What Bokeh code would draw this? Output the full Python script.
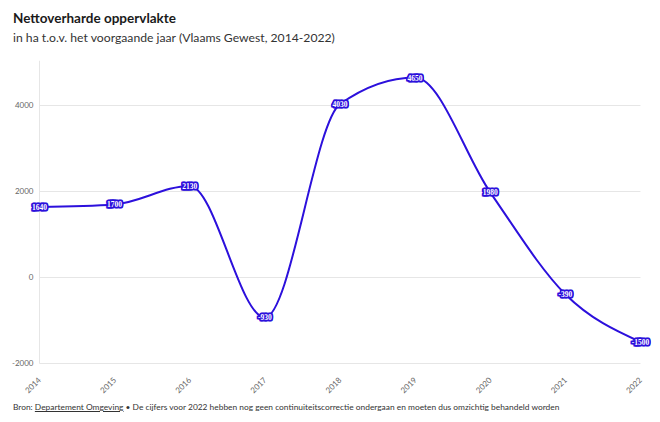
import math
import numpy as np
from bokeh.plotting import figure
from bokeh.layouts import column
from bokeh.models import (ColumnDataSource, Range1d, FixedTicker, LabelSet, Div)
from bokeh.core.properties import value
from bokeh.embed import file_html
from bokeh.resources import INLINE

years = [2014, 2015, 2016, 2017, 2018, 2019, 2020, 2021, 2022]
values = [1640, 1700, 2130, -930, 4030, 4650, 1980, -390, -1500]
y_ticks = [-2000, 0, 2000, 4000]
title = "Nettoverharde oppervlakte"
subtitle = "in ha t.o.v. het voorgaande jaar (Vlaams Gewest, 2014-2022)"
footer_a = "Bron: "
footer_link = "Departement Omgeving"
footer_b = " \u2022 De cijfers voor 2022 hebben nog geen continuiteitscorrectie ondergaan en moeten dus omzichtig behandeld worden"

LINE = "#2c10dc"
FONT = "Lato"
GRID = "#e6e6e6"

# monotone-X cubic segments (as d3.curveMonotoneX)
def sign(v):
    return -1 if v < 0 else 1

xs = np.array(years, dtype=float)
ys = np.array(values, dtype=float)
n = len(xs)
t = np.zeros(n)
for i in range(1, n - 1):
    h0 = xs[i] - xs[i - 1]
    h1 = xs[i + 1] - xs[i]
    s0 = (ys[i] - ys[i - 1]) / h0
    s1 = (ys[i + 1] - ys[i]) / h1
    pp = (s0 * h1 + s1 * h0) / (h0 + h1)
    t[i] = (sign(s0) + sign(s1)) * min(abs(s0), abs(s1), 0.5 * abs(pp))
h = xs[1] - xs[0]
t[0] = (3 * (ys[1] - ys[0]) / h - t[1]) / 2
h = xs[-1] - xs[-2]
t[-1] = (3 * (ys[-1] - ys[-2]) / h - t[-2]) / 2

seg = dict(x0=[], y0=[], x1=[], y1=[], cx0=[], cy0=[], cx1=[], cy1=[])
for i in range(n - 1):
    dx = (xs[i + 1] - xs[i]) / 3
    seg["x0"].append(xs[i]); seg["y0"].append(ys[i])
    seg["x1"].append(xs[i + 1]); seg["y1"].append(ys[i + 1])
    seg["cx0"].append(xs[i] + dx); seg["cy0"].append(ys[i] + dx * t[i])
    seg["cx1"].append(xs[i + 1] - dx); seg["cy1"].append(ys[i + 1] - dx * t[i + 1])

x0, x1 = years[0], years[-1]
y_lo, y_hi = -2163, 5046

p = figure(width=660, height=350, output_backend="svg", toolbar_location=None,
           x_range=Range1d(2013.614, 2022.24), y_range=Range1d(y_lo, y_hi),
           min_border_left=10, min_border_right=2, min_border_top=12,
           min_border_bottom=28, margin=0)
p.outline_line_color = None
p.background_fill_color = "white"
p.border_fill_color = "white"
p.xgrid.visible = False
p.ygrid.visible = False
p.yaxis.visible = False

# gridlines (horizontal at y ticks, vertical at first year)
p.segment(x0=[x0] * len(y_ticks), x1=[x1] * len(y_ticks), y0=y_ticks, y1=y_ticks,
          line_color=GRID, line_width=1)
p.segment(x0=[x0], x1=[x0], y0=[y_ticks[0]], y1=[y_hi], line_color=GRID, line_width=1)

# y tick labels
p.text(x=[x0] * len(y_ticks), y=y_ticks, text=[str(v) for v in y_ticks],
       x_offset=-6, text_align="right", text_baseline="middle",
       text_font=value(FONT), text_font_size="8px", text_color="#666666")

p.bezier(x0="x0", y0="y0", x1="x1", y1="y1", cx0="cx0", cy0="cy0", cx1="cx1", cy1="cy1",
         source=ColumnDataSource(seg), line_color=LINE, line_width=2)

src = ColumnDataSource(dict(x=years, y=values, t=[str(v) for v in values]))
label_style = dict(x="x", y="y", text="t", source=src, text_align="center",
                   text_baseline="middle", text_font=FONT, text_font_size="7.5px",
                   text_font_style="bold")
for ox, oy in [(-1, -1), (-1, 0), (-1, 1), (0, -1), (0, 1), (1, -1), (1, 0), (1, 1)]:
    p.add_layout(LabelSet(x_offset=ox, y_offset=oy, text_color=LINE,
                          text_outline_color=LINE, **label_style))
p.add_layout(LabelSet(text_color="white", **label_style))

p.xaxis.ticker = FixedTicker(ticks=years)
p.xaxis.major_label_orientation = math.pi / 4
p.xaxis.axis_line_color = None
p.xaxis.major_tick_line_color = None
p.xaxis.minor_tick_line_color = None
p.xaxis.major_label_text_font = FONT
p.xaxis.major_label_text_font_size = "8px"
p.xaxis.major_label_text_color = "#666666"
p.xaxis.major_label_standoff = 2

header = Div(
    text=(f'<div style="font-family:Lato;padding:8px 0 0 13px;white-space:nowrap">'
          f'<div style="font-size:13.5px;font-weight:bold;color:#1a1a1a;line-height:20px">{title}</div>'
          f'<div style="font-size:12.2px;color:#333333;line-height:20px">{subtitle}</div></div>'),
    width=660, height=48, margin=0)
footer = Div(
    text=(f'<div style="font-family:Lato;font-size:8.4px;color:#333333;line-height:18px;'
          f'padding-left:13px;white-space:nowrap">{footer_a}<u>{footer_link}</u>{footer_b}</div>'),
    width=660, height=24, margin=0)

layout = column(header, p, footer, width=660, spacing=0, margin=0)
open("out.html", "w").write(file_html(layout, INLINE))
